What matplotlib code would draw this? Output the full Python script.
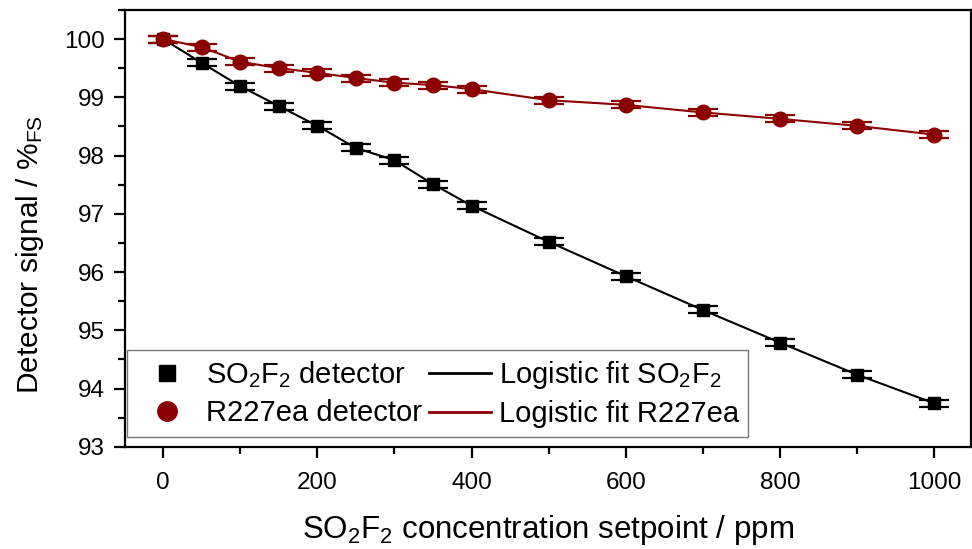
import matplotlib
matplotlib.use("Agg")
import matplotlib.pyplot as plt
from matplotlib.ticker import MultipleLocator
from matplotlib.lines import Line2D

plt.rcParams['font.family'] = ['Liberation Sans', 'DejaVu Sans']
plt.rcParams['mathtext.fontset'] = 'custom'
plt.rcParams['mathtext.rm'] = 'Liberation Sans'
plt.rcParams['mathtext.it'] = 'Liberation Sans'

# Concentration setpoints (ppm)
conc = [0, 50, 100, 150, 200, 250, 300, 350, 400, 500, 600, 700, 800, 900, 1000]

# Detector signals (% of full scale)
so2f2_signal = [100.0, 99.59, 99.19, 98.85, 98.51, 98.13, 97.92, 97.51, 97.14,
                96.52, 95.93, 95.35, 94.79, 94.24, 93.75]
r227_signal = [100.0, 99.86, 99.61, 99.50, 99.42, 99.33, 99.25, 99.21, 99.14,
               98.95, 98.87, 98.74, 98.63, 98.51, 98.36]

# Standard deviations
so2f2_err = [0.06, 0.06, 0.06, 0.06, 0.06, 0.06, 0.06, 0.06, 0.06,
             0.06, 0.06, 0.06, 0.06, 0.06, 0.06]
r227_err = [0.06, 0.06, 0.06, 0.06, 0.06, 0.06, 0.06, 0.06, 0.06,
            0.06, 0.06, 0.06, 0.06, 0.06, 0.06]

dark_red = '#8b0000'

fig = plt.figure(figsize=(9.72, 5.49), dpi=100)
ax = fig.add_axes([0.129, 0.186, 0.87, 0.796])

# Fit curves
ax.plot(conc, so2f2_signal, color='black', lw=1.5, zorder=2)
ax.plot(conc, r227_signal, color=dark_red, lw=1.5, zorder=2)

# Measured points with error bars
ax.errorbar(conc, so2f2_signal, yerr=so2f2_err, fmt='s', color='black',
            ms=9, capsize=11, capthick=1.6, elinewidth=1.2, zorder=3)
ax.errorbar(conc, r227_signal, yerr=r227_err, fmt='o', color=dark_red,
            ms=10.5, capsize=11, capthick=1.6, elinewidth=1.2, zorder=3)

ax.set_xlim(-49, 1048)
ax.set_ylim(93, 100.5)
ax.xaxis.set_major_locator(MultipleLocator(200))
ax.xaxis.set_minor_locator(MultipleLocator(100))
ax.yaxis.set_major_locator(MultipleLocator(1))
ax.yaxis.set_minor_locator(MultipleLocator(0.5))

for s in ax.spines.values():
    s.set_linewidth(1.6)
ax.tick_params(which='major', direction='out', length=8, width=1.6,
               labelsize=17.5, top=False, right=False)
ax.tick_params(axis='x', which='major', pad=10)
ax.tick_params(axis='y', which='major', pad=7)
ax.tick_params(which='minor', direction='out', length=5, width=1.6,
               top=False, right=False)

ax.set_xlabel(r'SO$_2$F$_2$ concentration setpoint / ppm', fontsize=22.5, labelpad=14)
ax.set_ylabel(r'Detector signal / %$_{\mathrm{FS}}$', fontsize=21.5)
ax.yaxis.set_label_coords(-0.094, 0.44)

handles = [
    Line2D([], [], ls='none', marker='s', color='black', ms=12),
    Line2D([], [], ls='none', marker='o', color=dark_red, ms=14),
    Line2D([], [], color='black', lw=2),
    Line2D([], [], color=dark_red, lw=2),
]
labels = [r'SO$_2$F$_2$ detector', 'R227ea detector',
          r'Logistic fit SO$_2$F$_2$', 'Logistic fit R227ea']
leg = ax.legend(handles, labels, ncol=2, loc='lower left',
                bbox_to_anchor=(0.0024, 0.023), borderaxespad=0,
                fontsize=21, frameon=True, fancybox=False, edgecolor='#555555',
                handlelength=2.1, handletextpad=0.3,
                columnspacing=0.25, labelspacing=0.32, borderpad=0.3)
leg.get_frame().set_linewidth(1.0)

fig.savefig('out.png', dpi=100)
